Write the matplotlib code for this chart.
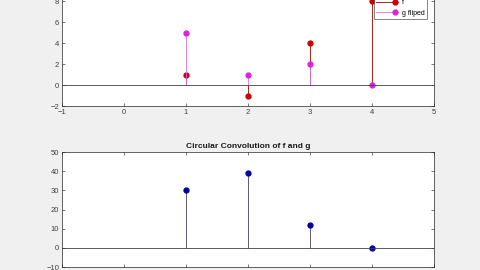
import numpy as np
import matplotlib.pyplot as plt
from matplotlib.lines import Line2D
from matplotlib.legend_handler import HandlerBase

# dane
n = [1, 2, 3, 4]
f = [1, -1, 4, 8]
g_fliped = [5, 1, 2, 0]
conv_fg = [30, 39, 12, 0]

fig = plt.figure(figsize=(4.8, 2.7), dpi=100, facecolor='#f0f0f0')
plt.rcParams['font.family'] = 'Liberation Sans'


class LiniaZMarkerem(HandlerBase):
    # linia pozioma z markerem przy prawym koncu (jak w MATLAB)
    def create_artists(self, legend, orig, xd, yd, w, h, fs, trans):
        y = yd + h / 2
        l = Line2D([xd, xd + w], [y, y], color=orig.get_color(), lw=0.6,
                   transform=trans)
        m = Line2D([xd + w * 0.85], [y], color=orig.get_markerfacecolor(),
                   marker='o', markersize=3.5, ls='none', transform=trans)
        return [l, m]


def styl(ax):
    ax.set_facecolor('white')
    ax.tick_params(direction='in', top=True, right=True, labelsize=5.5,
                   length=2.5, width=0.5, colors='#404040', pad=2)
    for s in ax.spines.values():
        s.set_color('#262626')
        s.set_linewidth(0.5)
    ax.set_xlim(-1, 5)
    ax.set_xticks(range(-1, 6))


# ---------------- gorny wykres ----------------
ax1 = fig.add_axes([0.129, 0.607, 0.775, 0.467])
styl(ax1)
m1, s1, b1 = ax1.stem(n, f, basefmt=' ')
plt.setp(m1, color='#cc0000', markersize=3.5)
plt.setp(s1, color='#a00000', linewidth=0.6)
m2, s2, b2 = ax1.stem(n, g_fliped, basefmt=' ')
plt.setp(m2, color='#e020e0', markersize=3.5)
plt.setp(s2, color='#e070e0', linewidth=0.6)
ax1.axhline(0, color='#404040', linewidth=0.6)
ax1.set_ylim(-2, 10)
ax1.set_yticks(range(-2, 11, 2))

h1 = Line2D([], [], color='#a00000', markerfacecolor='#cc0000')
h2 = Line2D([], [], color='#e070e0', markerfacecolor='#e020e0')
leg = ax1.legend([h1, h2], ['f', 'g fliped'], loc='lower right',
                 bbox_to_anchor=(427 / 480, 1 - 19 / 270),
                 bbox_transform=fig.transFigure, borderaxespad=0,
                 fontsize=5, frameon=True, fancybox=False, borderpad=0.3,
                 labelspacing=0.55, handlelength=3.2, handletextpad=0.6,
                 handler_map={Line2D: LiniaZMarkerem()})
leg.get_frame().set_edgecolor('#262626')
leg.get_frame().set_linewidth(0.5)

# ---------------- dolny wykres ----------------
ax2 = fig.add_axes([0.129, 0.011, 0.775, 0.426])
styl(ax2)
m3, s3, b3 = ax2.stem(n, conv_fg, basefmt=' ')
plt.setp(m3, color='#0000a0', markersize=3.5)
plt.setp(s3, color='#404060', linewidth=0.6)
ax2.axhline(0, color='#404040', linewidth=0.6)
ax2.set_ylim(-10, 50)
ax2.set_yticks(range(-10, 51, 10))
ax2.set_title('Circular Convolution of f and g', fontsize=6, fontweight='bold',
              pad=3, color='#1a1a1a')

plt.savefig('out.png', dpi=100, facecolor=fig.get_facecolor())
